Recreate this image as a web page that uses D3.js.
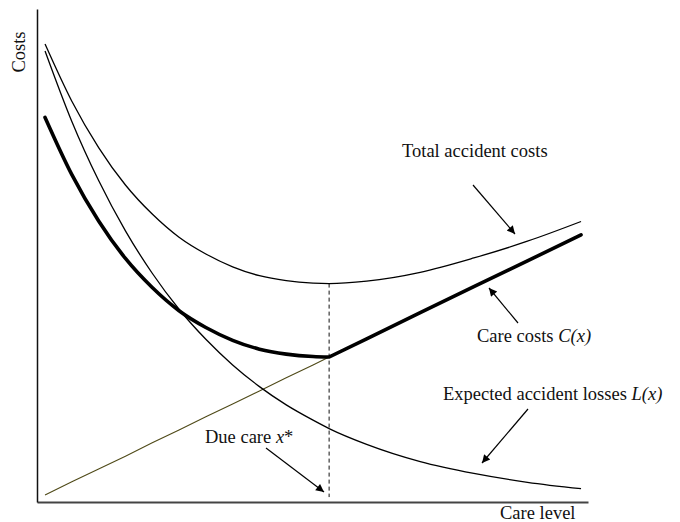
<!DOCTYPE html>
<html>
<head>
<meta charset="utf-8">
<script src="https://cdn.jsdelivr.net/npm/d3@7/dist/d3.min.js"></script>
<style>
  html, body { margin: 0; padding: 0; background: #fff; }
  svg { display: block; }
  text { font-family: "Liberation Serif", "Times New Roman", serif; fill: #111; }
</style>
</head>
<body>
<svg id="chart" width="680" height="522"></svg>
<script>
// ---- data ----
const careLevel    = [0, 5, 10, 15, 20, 25, 30, 35, 40, 45, 50, 53, 60, 70, 80, 90, 100];
const expectedLoss = [91.5, 77.2, 65.2, 55.0, 46.4, 39.1, 33.0, 27.8, 23.4, 19.7, 16.6, 14.9, 11.7, 8.2, 5.8, 4.0, 2.7];
const careCost     = [1.4, 4.1, 6.7, 9.3, 12.0, 14.6, 17.3, 19.9, 22.5, 25.2, 27.8, 29.4, 33.1, 38.4, 43.7, 48.9, 54.2];
const totalCost    = [92.9, 81.3, 71.9, 64.3, 58.4, 53.7, 50.3, 47.7, 45.9, 44.9, 44.4, 44.3, 44.8, 46.6, 49.5, 52.9, 56.9];
const injurerCost  = [78.0, 66.4, 57.0, 49.4, 43.5, 38.8, 35.4, 32.8, 31.0, 30.0, 29.5, 29.4, 33.1, 38.4, 43.7, 48.9, 54.2];
const dueCare = 53;
const dueCareIndex = careLevel.indexOf(dueCare);
const labels = {
  yAxis: "Costs",
  xAxis: "Care level",
  total: "Total accident costs",
  care: ["Care costs ", "C(x)"],
  loss: ["Expected accident losses ", "L(x)"],
  due: ["Due care ", "x", "*"]
};

// ---- scales ----
const svg = d3.select("#chart");
const x = d3.scaleLinear().domain([-1.5, 101.3]).range([37, 588]);
const y = d3.scaleLinear().domain([0, 100]).range([502, 9]);

const defs = svg.append("defs");
defs.append("marker")
  .attr("id", "arrow").attr("viewBox", "0 0 10 10")
  .attr("refX", 10).attr("refY", 5)
  .attr("markerWidth", 10).attr("markerHeight", 8)
  .attr("markerUnits", "userSpaceOnUse")
  .attr("orient", "auto")
  .append("path").attr("d", "M0,0 L10,5 L0,10 Z").attr("fill", "#000");

// ---- axes ----
const xAxis = svg.append("g").attr("transform", `translate(0,${y(0)})`)
  .call(d3.axisBottom(x).ticks(0).tickSizeOuter(0));
xAxis.select(".domain").attr("stroke", "#444").attr("stroke-width", 1.8);
const yAxis = svg.append("g").attr("transform", `translate(${x.range()[0]},0)`)
  .call(d3.axisLeft(y).ticks(0).tickSizeOuter(0));
yAxis.select(".domain").attr("stroke", "#111").attr("stroke-width", 1.5);

const pts = vals => careLevel.map((c, i) => [c, vals[i]]);
const smooth = d3.line().x(d => x(d[0])).y(d => y(d[1])).curve(d3.curveMonotoneX);
const straight = d3.line().x(d => x(d[0])).y(d => y(d[1]));

// dashed due-care line
svg.append("line")
  .attr("x1", x(dueCare)).attr("x2", x(dueCare))
  .attr("y1", y(totalCost[dueCareIndex])).attr("y2", y(1))
  .attr("stroke", "#111").attr("stroke-width", 1).attr("stroke-dasharray", "4,3");

// care costs line below due care (thin, olive)
svg.append("path")
  .attr("d", straight(pts(careCost).slice(0, dueCareIndex + 1)))
  .attr("fill", "none").attr("stroke", "#4f4a18").attr("stroke-width", 1.1);

// expected accident losses
svg.append("path")
  .attr("d", smooth(pts(expectedLoss)))
  .attr("fill", "none").attr("stroke", "#000").attr("stroke-width", 1.3);

// total accident costs
svg.append("path")
  .attr("d", smooth(pts(totalCost)))
  .attr("fill", "none").attr("stroke", "#000").attr("stroke-width", 1.3);

// injurer's costs (thick)
const thickPts = pts(injurerCost);
const thickD = smooth(thickPts.slice(0, dueCareIndex + 1)) +
  thickPts.slice(dueCareIndex + 1).map(d => `L${x(d[0])},${y(d[1])}`).join("");
svg.append("path")
  .attr("d", thickD)
  .attr("fill", "none").attr("stroke", "#000").attr("stroke-width", 3.6)
  .attr("stroke-linecap", "round").attr("stroke-linejoin", "miter");

// ---- labels ----
const fs = 18.5;
svg.append("text")
  .attr("transform", "translate(25,52) rotate(-90)")
  .attr("text-anchor", "middle").attr("font-size", fs).text(labels.yAxis);

svg.append("text").attr("x", 500).attr("y", 519).attr("font-size", fs).text(labels.xAxis);

svg.append("text").attr("x", 402).attr("y", 157).attr("font-size", fs).text(labels.total);

const careT = svg.append("text").attr("x", 477).attr("y", 342).attr("font-size", fs);
careT.append("tspan").text(labels.care[0]);
careT.append("tspan").attr("font-style", "italic").text(labels.care[1]);

const lossT = svg.append("text").attr("x", 443).attr("y", 400).attr("font-size", fs);
lossT.append("tspan").text(labels.loss[0]);
lossT.append("tspan").attr("font-style", "italic").text(labels.loss[1]);

const dueT = svg.append("text").attr("x", 205).attr("y", 443).attr("font-size", fs);
dueT.append("tspan").text(labels.due[0]);
dueT.append("tspan").attr("font-style", "italic").text(labels.due[1]);
dueT.append("tspan").text(labels.due[2]);

// ---- annotation arrows ----
const arrows = [
  [[473, 185], [515, 234]],
  [[518, 323], [489, 288]],
  [[528, 409], [482, 463]],
  [[266, 448], [324, 492]]
];
arrows.forEach(([a, b]) => {
  svg.append("line")
    .attr("x1", a[0]).attr("y1", a[1]).attr("x2", b[0]).attr("y2", b[1])
    .attr("stroke", "#000").attr("stroke-width", 1.2)
    .attr("marker-end", "url(#arrow)");
});
</script>
</body>
</html>
